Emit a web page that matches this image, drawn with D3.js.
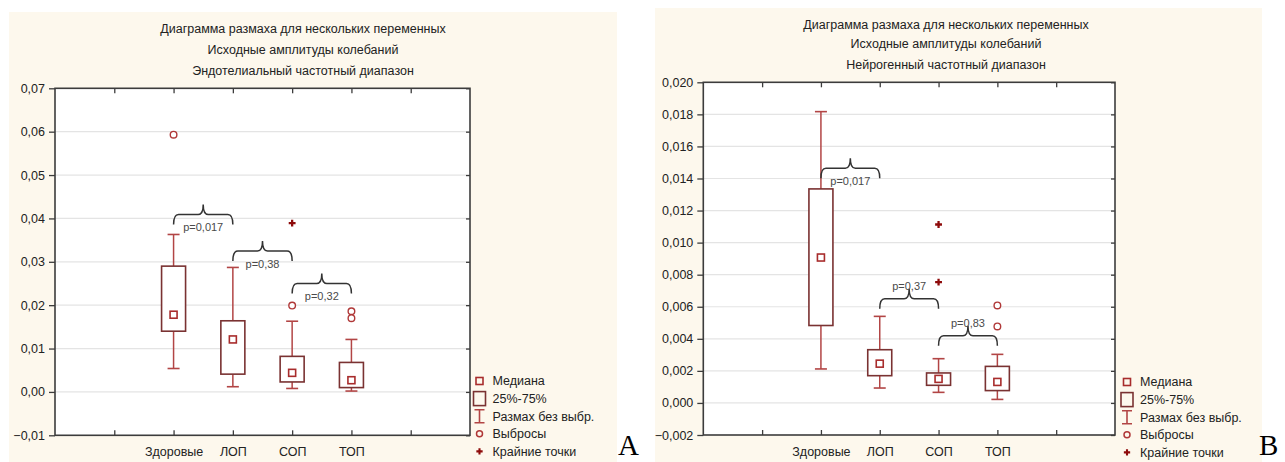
<!DOCTYPE html>
<html lang="ru">
<head>
<meta charset="utf-8">
<script src="https://cdn.jsdelivr.net/npm/d3@7"></script>
<style>
  html, body { margin: 0; padding: 0; background: #ffffff; }
  svg { display: block; font-family: "Liberation Sans", Arial, sans-serif; }
</style>
</head>
<body>
<svg id="chart" width="1285" height="462"></svg>
<script>
// ---- Data -------------------------------------------------------------
const categories = ["Здоровые", "ЛОП", "СОП", "ТОП"];

// Endothelial frequency band (panel A)
const endoMedian = [0.0178, 0.0121, 0.0044, 0.0027];
const endoQ1 = [0.0140, 0.0041, 0.0023, 0.0010];
const endoQ3 = [0.0290, 0.0164, 0.0082, 0.0068];
const endoMin = [0.0054, 0.0012, 0.0008, 0.0002];
const endoMax = [0.0363, 0.0287, 0.0163, 0.0121];
const endoOutliers = [[0.0593], [], [0.0199], [0.0186, 0.0170]];
const endoExtremes = [[], [], [0.0389], []];
const endoTicks = [-0.01, 0.00, 0.01, 0.02, 0.03, 0.04, 0.05, 0.06, 0.07];
const endoCompare = [
  { a: "Здоровые", b: "ЛОП", label: "p=0,017", level: 0.0409, side: "below" },
  { a: "ЛОП", b: "СОП", label: "p=0,38", level: 0.0325, side: "below" },
  { a: "СОП", b: "ТОП", label: "p=0,32", level: 0.0250, side: "below" }
];

// Neurogenic frequency band (panel B)
const neuroMedian = [0.00907, 0.00245, 0.00150, 0.00131];
const neuroQ1 = [0.00483, 0.00170, 0.00110, 0.00077];
const neuroQ3 = [0.01335, 0.00332, 0.00187, 0.00228];
const neuroMin = [0.00212, 0.00093, 0.00066, 0.00022];
const neuroMax = [0.01817, 0.00540, 0.00276, 0.00303];
const neuroOutliers = [[], [], [], [0.00608, 0.00477]];
const neuroExtremes = [[], [], [0.01113, 0.00754], []];
const neuroTicks = [-0.002, 0.000, 0.002, 0.004, 0.006, 0.008, 0.010, 0.012, 0.014, 0.016, 0.018, 0.020];
const neuroCompare = [
  { a: "Здоровые", b: "ЛОП", label: "p=0,017", level: 0.01464, side: "below" },
  { a: "ЛОП", b: "СОП", label: "p=0,37", level: 0.0065, side: "above" },
  { a: "СОП", b: "ТОП", label: "p=0,83", level: 0.00419, side: "above" }
];

const titleLines = ["Диаграмма размаха для нескольких переменных", "Исходные амплитуды колебаний"];
const legendLabels = ["Медиана", "25%-75%", "Размах без выбр.", "Выбросы", "Крайние точки"];

// ---- Styling --------------------------------------------------------------
const COL = {
  cream: "#fdf8ed",
  frame: "#3c3c3c",
  grid: "#e4e4e4",
  box: "#7a3232",
  whisker: "#b24545",
  median: "#a82c2c",
  outlier: "#b03838",
  extreme: "#8e0b0b",
  text: "#222222",
  note: "#4a4a4a",
  brace: "#333333"
};

const ru = d3.formatLocale({ decimal: ",", thousands: " ", grouping: [3], currency: ["", ""] });
const svg = d3.select("#chart");

function drawPanel(cfg) {
  const g = svg.append("g");

  // panel background
  g.append("rect")
    .attr("x", cfg.bg[0]).attr("y", cfg.bg[1])
    .attr("width", cfg.bg[2]).attr("height", cfg.bg[3])
    .attr("fill", COL.cream);

  const x = d3.scalePoint()
    .domain(["_l", ...categories, "_r"])
    .range([cfg.left, cfg.right])
    .padding(1);
  const y = d3.scaleLinear()
    .domain([cfg.ticks[0], cfg.ticks[cfg.ticks.length - 1]])
    .range([cfg.bottom, cfg.top]);

  // plot area
  g.append("rect")
    .attr("x", cfg.left).attr("y", cfg.top)
    .attr("width", cfg.right - cfg.left).attr("height", cfg.bottom - cfg.top)
    .attr("fill", "#ffffff");

  // grid
  g.append("g").selectAll("line").data(cfg.ticks.slice(1, -1)).join("line")
    .attr("x1", cfg.left).attr("x2", cfg.right)
    .attr("y1", d => y(d)).attr("y2", d => y(d))
    .attr("stroke", COL.grid).attr("stroke-width", 1.2);

  // axes
  const fmt = ru.format(cfg.fmt);
  const yLeft = g.append("g").attr("transform", `translate(${cfg.left},0)`)
    .call(d3.axisLeft(y).tickValues(cfg.ticks).tickSize(6).tickPadding(4).tickFormat(fmt));
  const yRight = g.append("g").attr("transform", `translate(${cfg.right},0)`)
    .call(d3.axisRight(y).tickValues(cfg.ticks).tickSize(-4).tickFormat(""));
  const xBottom = g.append("g").attr("transform", `translate(0,${cfg.bottom})`)
    .call(d3.axisBottom(x).tickSize(-5).tickPadding(12)
      .tickFormat(d => d.startsWith("_") ? "" : d));
  const xTop = g.append("g").attr("transform", `translate(0,${cfg.top})`)
    .call(d3.axisTop(x).tickSize(-5).tickFormat(""));

  [yLeft, yRight, xBottom, xTop].forEach(a => {
    a.select(".domain").remove();
    a.selectAll(".tick line").attr("stroke", COL.frame).attr("stroke-width", 1.3);
    a.selectAll(".tick text").attr("fill", COL.text).attr("font-size", 12.5)
      .attr("font-family", "'Liberation Sans', Arial, sans-serif");
  });

  g.append("rect")
    .attr("x", cfg.left).attr("y", cfg.top)
    .attr("width", cfg.right - cfg.left).attr("height", cfg.bottom - cfg.top)
    .attr("fill", "none").attr("stroke", COL.frame).attr("stroke-width", 1.6);

  // boxes
  const boxW = 24, capW = 12;
  const rows = categories.map((c, i) => ({
    c, med: cfg.median[i], q1: cfg.q1[i], q3: cfg.q3[i], lo: cfg.min[i], hi: cfg.max[i],
    out: cfg.outliers[i], ext: cfg.extremes[i]
  }));
  const bg = g.append("g");
  rows.forEach(r => {
    const cx = x(r.c);
    // whiskers
    bg.append("line").attr("x1", cx).attr("x2", cx).attr("y1", y(r.hi)).attr("y2", y(r.q3))
      .attr("stroke", COL.whisker).attr("stroke-width", 1.5);
    bg.append("line").attr("x1", cx).attr("x2", cx).attr("y1", y(r.q1)).attr("y2", y(r.lo))
      .attr("stroke", COL.whisker).attr("stroke-width", 1.5);
    [r.hi, r.lo].forEach(v => bg.append("line")
      .attr("x1", cx - capW / 2).attr("x2", cx + capW / 2)
      .attr("y1", y(v)).attr("y2", y(v))
      .attr("stroke", COL.whisker).attr("stroke-width", 1.6));
    // box
    bg.append("rect").attr("x", cx - boxW / 2).attr("y", y(r.q3))
      .attr("width", boxW).attr("height", y(r.q1) - y(r.q3))
      .attr("fill", "#ffffff").attr("stroke", COL.box).attr("stroke-width", 1.6);
    // median
    bg.append("rect").attr("x", cx - 3.5).attr("y", y(r.med) - 3.5)
      .attr("width", 7).attr("height", 7)
      .attr("fill", "#ffffff").attr("stroke", COL.median).attr("stroke-width", 1.6);
    // outliers
    r.out.forEach(v => bg.append("circle").attr("cx", cx).attr("cy", y(v)).attr("r", 3.3)
      .attr("fill", "#ffffff").attr("stroke", COL.outlier).attr("stroke-width", 1.4));
    // extreme points
    r.ext.forEach(v => bg.append("path")
      .attr("transform", `translate(${cx},${y(v)})`)
      .attr("d", d3.symbol(d3.symbolCross, 26)())
      .attr("fill", COL.extreme));
  });

  // comparison braces
  const bx = g.append("g");
  cfg.compare.forEach(p => {
    const x1 = x(p.a), x2 = x(p.b), xm = (x1 + x2) / 2;
    const yl = y(p.level), drop = 10, rise = 10, r = 5;
    const d = `M${x1},${yl + drop} Q${x1},${yl} ${x1 + r},${yl}`
      + ` L${xm - r},${yl} Q${xm},${yl} ${xm},${yl - rise}`
      + ` Q${xm},${yl} ${xm + r},${yl} L${x2 - r},${yl} Q${x2},${yl} ${x2},${yl + drop}`;
    bx.append("path").attr("d", d).attr("fill", "none")
      .attr("stroke", COL.brace).attr("stroke-width", 1.5);
    bx.append("text")
      .attr("x", xm).attr("y", p.side === "below" ? yl + 13 : yl - 13)
      .attr("dy", "0.35em").attr("text-anchor", "middle")
      .attr("font-size", 11).attr("fill", COL.note)
      .text(p.label);
  });

  // titles
  const tg = g.append("g").attr("text-anchor", "middle").attr("fill", COL.text).attr("font-size", 12.5);
  [...titleLines, cfg.subtitle].forEach((t, i) => {
    tg.append("text").attr("x", cfg.titleX).attr("y", cfg.titleY[i]).attr("dy", "0.35em")
      .attr("fill", COL.text).text(t);
  });

  // legend
  const lg = g.append("g").attr("transform", `translate(${cfg.legend[0]},${cfg.legend[1]})`);
  const step = 17.6;
  legendLabels.forEach((t, i) => {
    lg.append("text").attr("x", 13).attr("y", i * step).attr("dy", "0.35em")
      .attr("font-size", 12.5).attr("fill", COL.text).text(t);
  });
  lg.append("rect").attr("x", -3.5).attr("y", -3.5).attr("width", 7).attr("height", 7)
    .attr("fill", "none").attr("stroke", COL.median).attr("stroke-width", 1.6);
  lg.append("rect").attr("x", -6).attr("y", step - 7).attr("width", 12).attr("height", 14)
    .attr("fill", "none").attr("stroke", COL.box).attr("stroke-width", 1.6);
  lg.append("path")
    .attr("d", `M-5,${2 * step - 6.5} H5 M0,${2 * step - 6.5} V${2 * step + 6.5} M-5,${2 * step + 6.5} H5`)
    .attr("fill", "none").attr("stroke", COL.whisker).attr("stroke-width", 1.6);
  lg.append("circle").attr("cx", 0).attr("cy", 3 * step).attr("r", 3)
    .attr("fill", "none").attr("stroke", COL.outlier).attr("stroke-width", 1.5);
  lg.append("path").attr("transform", `translate(0,${4 * step})`)
    .attr("d", d3.symbol(d3.symbolCross, 22)()).attr("fill", COL.extreme);

  // panel letter
  g.append("text").attr("x", cfg.letter[0]).attr("y", cfg.letter[1])
    .attr("font-family", "'Liberation Serif', 'Times New Roman', serif")
    .attr("font-size", 29).attr("fill", "#000").text(cfg.letterText);
}

drawPanel({
  bg: [9, 12, 608, 450],
  left: 55, right: 470, top: 88.3, bottom: 435.3,
  ticks: endoTicks, fmt: ".2f",
  median: endoMedian, q1: endoQ1, q3: endoQ3, min: endoMin, max: endoMax,
  outliers: endoOutliers, extremes: endoExtremes, compare: endoCompare,
  subtitle: "Эндотелиальный частотный диапазон",
  titleX: 303, titleY: [29, 50, 71],
  legend: [479.5, 381],
  letter: [618, 455], letterText: "A"
});

drawPanel({
  bg: [655, 8, 607, 454],
  left: 703.3, right: 1115, top: 82.3, bottom: 435,
  ticks: neuroTicks, fmt: ".3f",
  median: neuroMedian, q1: neuroQ1, q3: neuroQ3, min: neuroMin, max: neuroMax,
  outliers: neuroOutliers, extremes: neuroExtremes, compare: neuroCompare,
  subtitle: "Нейрогенный частотный диапазон",
  titleX: 946, titleY: [25, 44, 65],
  legend: [1127, 382],
  letter: [1259, 455], letterText: "B"
});
</script>
</body>
</html>
